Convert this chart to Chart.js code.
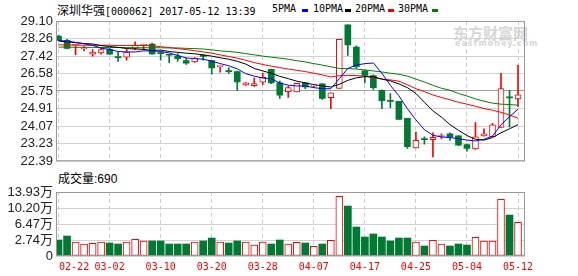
<!DOCTYPE html>
<html>
<head>
<meta charset="utf-8">
<script src="https://cdn.jsdelivr.net/npm/chart.js@4.4.0/dist/chart.umd.min.js"></script>
<style>
  body { margin: 0; width: 578px; height: 276px; background: #fff; position: relative; overflow: hidden; }
  canvas { position: absolute; left: 0; z-index: 2; }
  #kline { top: 0; }
  #vol { top: 172px; }
  .t { position: absolute; white-space: nowrap; color: #000; line-height: 1; }
  .cjk { font-family: "Noto Sans CJK SC"; font-size: 12px; }
  .mono { font-family: "DejaVu Sans Mono"; font-size: 10px; }
  .mk { position: absolute; width: 6px; height: 3px; }
  .wm { color: #d6d6d6; z-index: 1; }
</style>
</head>
<body>
<div class="t" style="left:57px;top:2px;"><span class="cjk">深圳华强</span><span class="mono">[000062] 2017-05-12 13:39</span></div>
<div class="t mono" style="left:272px;top:4px;">5PMA</div><div class="mk" style="left:302px;top:9px;background:#0000ff"></div>
<div class="t mono" style="left:313px;top:4px;">10PMA</div><div class="mk" style="left:345px;top:9px;background:#000"></div>
<div class="t mono" style="left:355px;top:4px;">20PMA</div><div class="mk" style="left:388px;top:9px;background:#ff0000"></div>
<div class="t mono" style="left:398px;top:4px;">30PMA</div><div class="mk" style="left:432px;top:9px;background:#008000"></div>
<div class="t wm" style="left:453px;top:22px;font:bold 15px 'Noto Sans CJK SC';">东方财富网</div>
<div class="t wm" style="left:455px;top:39px;font:bold 8px 'DejaVu Sans';letter-spacing:1px;">eastmoney.com</div>
<div class="t" style="left:58px;top:173px;font-size:12px;font-family:'Liberation Sans','Noto Sans CJK SC';">成交量:690</div>
<canvas id="kline" width="578" height="172"></canvas>
<canvas id="vol" width="578" height="104"></canvas>
<script>
const dates = ["02-22","02-23","02-24","02-27","02-28","03-01","03-02","03-03","03-06","03-07",
  "03-08","03-09","03-10","03-13","03-14","03-15","03-16","03-17","03-20","03-21",
  "03-22","03-23","03-24","03-27","03-28","03-29","03-30","03-31","04-05","04-06",
  "04-07","04-10","04-11","04-12","04-13","04-14","04-17","04-18","04-19","04-20",
  "04-21","04-24","04-25","04-26","04-27","04-28","05-02","05-03","05-04","05-05",
  "05-08","05-09","05-10","05-11","05-12"];

const open = [28.38,28.17,27.93,27.77,27.51,27.57,27.74,27.36,27.37,27.79,
  27.94,28.00,27.57,27.48,27.42,27.20,27.14,27.43,27.20,26.92,
  26.70,26.68,26.04,26.00,26.17,26.79,26.14,25.72,25.71,26.14,
  25.98,26.09,25.43,25.87,28.92,27.85,26.71,26.49,25.78,25.27,
  25.26,24.44,23.02,23.43,23.42,23.57,23.70,23.60,23.18,22.98,
  23.60,23.56,24.01,25.45,25.37];
const high = [28.42,28.22,27.98,27.88,27.73,27.79,27.80,27.61,27.76,28.10,
  27.99,28.04,27.63,27.51,27.54,27.33,27.35,27.50,27.21,26.95,
  26.87,26.70,26.16,26.37,26.60,26.80,26.22,25.99,26.12,26.17,
  26.03,26.10,25.66,28.22,28.92,27.91,26.75,26.52,25.80,25.63,
  25.26,24.44,23.78,23.56,23.75,23.70,23.75,23.62,23.20,24.24,
  23.94,24.20,26.60,25.78,26.98];
const low = [28.17,27.76,27.49,27.67,27.42,27.51,27.50,27.17,27.22,27.73,
  27.71,27.50,27.23,27.11,27.17,27.02,27.12,27.22,26.55,26.65,
  26.59,25.78,26.02,25.97,26.06,26.10,25.40,25.44,25.71,25.86,
  25.92,25.35,24.90,25.87,27.45,26.83,26.14,25.83,24.90,24.95,
  24.39,23.00,23.02,23.21,22.59,23.47,23.39,23.14,22.87,22.95,
  23.59,23.55,24.01,24.02,25.01];
const close = [28.17,27.79,27.98,27.80,27.61,27.73,27.51,27.35,27.61,27.94,
  27.96,27.53,27.54,27.46,27.30,27.08,27.33,27.41,26.86,26.94,
  26.68,26.18,26.14,26.10,26.40,26.14,25.55,25.91,26.12,25.94,
  25.99,25.40,25.66,28.22,27.96,26.91,26.49,25.91,25.29,25.25,
  24.39,23.08,23.39,23.42,23.53,23.60,23.55,23.16,23.00,23.56,
  23.70,24.13,25.86,25.42,25.57];

const ma5 = [28.17,28.13,28.08,28.01,27.94,27.80,27.74,27.64,27.62,27.62,
  27.67,27.67,27.64,27.57,27.45,27.33,27.30,27.27,27.18,27.06,
  26.96,26.81,26.58,26.46,26.37,26.34,26.13,26.03,25.99,25.99,
  25.91,25.86,25.86,26.34,26.83,26.99,27.06,27.09,26.60,26.02,
  25.52,24.90,24.37,23.90,23.63,23.55,23.52,23.47,23.40,23.36,
  23.44,23.59,24.13,24.52,24.88];
const ma10 = [28.14,28.10,28.06,28.02,28.00,27.92,27.88,27.84,27.78,27.76,
  27.74,27.69,27.71,27.64,27.60,27.56,27.53,27.48,27.42,27.34,
  27.27,27.17,27.04,26.83,26.71,26.60,26.45,26.34,26.22,26.14,
  26.06,25.99,25.94,26.07,26.26,26.38,26.44,26.43,26.32,26.23,
  26.09,25.91,25.63,25.21,24.80,24.50,24.14,23.87,23.62,23.44,
  23.40,23.52,23.75,23.94,24.14];
const ma20 = [27.96,27.95,27.95,27.94,27.94,27.94,27.94,27.93,27.93,27.93,
  27.93,27.92,27.87,27.83,27.78,27.73,27.68,27.62,27.56,27.48,
  27.40,27.32,27.22,27.11,27.02,26.94,26.87,26.80,26.74,26.68,
  26.60,26.52,26.42,26.48,26.49,26.49,26.45,26.39,26.32,26.28,
  26.22,26.05,25.86,25.72,25.56,25.44,25.33,25.21,25.12,25.02,
  24.91,24.83,24.73,24.60,24.45];
const ma30 = [27.85,27.85,27.84,27.84,27.84,27.83,27.83,27.83,27.83,27.82,
  27.82,27.82,27.82,27.81,27.81,27.79,27.78,27.76,27.72,27.67,
  27.64,27.60,27.54,27.48,27.42,27.37,27.32,27.27,27.20,27.14,
  27.06,26.99,26.91,26.83,26.82,26.80,26.76,26.71,26.66,26.60,
  26.55,26.46,26.32,26.18,26.02,25.88,25.79,25.63,25.51,25.37,
  25.26,25.17,25.12,25.10,25.07];

// 成交量, 单位: 万
const volume = [2.74,3.67,2.27,1.81,1.97,2.27,2.04,1.81,2.27,2.90,
  2.51,2.51,2.51,1.81,1.81,1.81,2.27,2.51,3.20,2.27,
  2.04,2.51,2.27,1.57,2.27,1.81,2.74,1.81,2.20,2.04,
  1.27,1.81,2.67,12.92,10.66,5.77,3.44,4.14,3.44,2.51,
  3.20,3.20,2.27,1.34,2.67,1.81,1.34,1.81,1.57,3.37,
  2.51,2.51,12.22,8.56,6.86];

const priceTicks = ["29.10","28.26","27.42","26.58","25.75","24.91","24.07","23.23","22.39"];
const volTicks = [-0.99, 2.74, 6.47, 10.20, 13.93];
const volTickLabels = ["0","2.74万","6.47万","10.20万","13.93万"];
const dateTicks = ["02-22","03-02","03-10","03-20","03-28","04-07","04-17","04-25","05-04","05-12"];

const RED = "#ff0000", GREEN = "#007a33";
const idx = dates.map((d, i) => i);
const isUp = close.map((c, i) => c >= open[i]);
const candleColor = isUp.map(u => u ? RED : GREEN);
const fillColor = isUp.map(u => u ? "#fff" : GREEN);
const X_MIN = -0.3, X_MAX = 54.82;

// frame round the plot area
const frame = {
  id: "frame",
  afterDraw(chart) {
    const { ctx, chartArea: a } = chart;
    ctx.save();
    ctx.strokeStyle = "#999";
    ctx.lineWidth = 1;
    ctx.strokeRect(a.left + 0.5, a.top + 0.5, a.right - a.left - 1, a.bottom - a.top - 1);
    ctx.restore();
  }
};

const xAxis = {
  type: "linear", min: X_MIN, max: X_MAX, offset: false,
  afterBuildTicks: s => { s.ticks = dateTicks.map(d => ({ value: dates.indexOf(d) })); },
  ticks: { display: false },
  grid: { color: "#cccccc", drawTicks: false, offset: false },
  border: { display: false, dash: [4, 3] },
  afterFit: s => { s.height = 0; }
};

const maLine = (data, color) => ({
  type: "line",
  data: idx.map(i => ({ x: i, y: data[i] })),
  borderColor: color, borderWidth: 1, pointRadius: 0, tension: 0, order: 1
});

new Chart(document.getElementById("kline"), {
  type: "bar",
  data: {
    datasets: [
      {
        data: idx.map(i => ({ x: i, y: [low[i], high[i]] })),
        backgroundColor: candleColor, barThickness: 1, grouped: false, order: 3
      },
      {
        data: idx.map(i => ({ x: i, y: [open[i], close[i]] })),
        backgroundColor: fillColor, borderColor: candleColor,
        borderWidth: isUp.map(u => u ? 1 : 0), borderSkipped: false,
        barThickness: 6, minBarLength: 1, grouped: false, order: 2
      },
      maLine(ma5, "#0000ff"),
      maLine(ma10, "#000000"),
      maLine(ma20, "#ff0000"),
      maLine(ma30, "#008000")
    ]
  },
  options: {
    responsive: false, animation: false,
    layout: { padding: { left: 0, right: 53, top: 21, bottom: 6 } },
    plugins: { legend: { display: false }, tooltip: { enabled: false } },
    scales: {
      x: xAxis,
      y: {
        min: 22.39, max: 29.10,
        afterBuildTicks: s => { s.ticks = priceTicks.map(t => ({ value: parseFloat(t) })); },
        ticks: { callback: v => v.toFixed(2), color: "#222", padding: 3, autoSkip: false,
                 font: { family: "'Liberation Sans'", size: 13 } },
        grid: { color: c => (c.tick && c.tick.value === 25.75) ? "#a0a0a0" : "#d2d2d2", drawTicks: false },
        border: { display: false },
        afterFit: s => { s.width = 56; }
      }
    }
  },
  plugins: [frame]
});

// date labels under the volume panel
const dateLabels = {
  id: "dateLabels",
  afterDraw(chart) {
    const { ctx } = chart;
    const xs = chart.scales.x;
    ctx.save();
    ctx.font = "10px 'DejaVu Sans Mono'";
    ctx.fillStyle = RED;
    ctx.textBaseline = "middle";
    dateTicks.forEach((d, k) => {
      const px = xs.getPixelForValue(dates.indexOf(d));
      ctx.textAlign = k === 0 ? "left" : "center";
      ctx.fillText(d, k === 0 ? px + 0.5 : px, 95);
    });
    ctx.restore();
  }
};

new Chart(document.getElementById("vol"), {
  type: "bar",
  data: {
    datasets: [{
      data: idx.map(i => ({ x: i, y: volume[i] })),
      base: volTicks[0],
      backgroundColor: fillColor, borderColor: candleColor,
      borderWidth: isUp.map(u => u ? 1 : 0), borderSkipped: false,
      barThickness: 7, grouped: false
    }]
  },
  options: {
    responsive: false, animation: false,
    layout: { padding: { left: 0, right: 53, top: 20, bottom: 20 } },
    plugins: { legend: { display: false }, tooltip: { enabled: false } },
    scales: {
      x: xAxis,
      y: {
        min: volTicks[0], max: volTicks[volTicks.length - 1],
        afterBuildTicks: s => { s.ticks = volTicks.map(v => ({ value: v })); },
        ticks: { callback: v => volTickLabels[volTicks.indexOf(v)], color: "#222", padding: 3, autoSkip: false,
                 font: { family: "'Liberation Sans', 'Noto Sans CJK SC'", size: 13 } },
        grid: { color: "#d2d2d2", drawTicks: false },
        border: { display: false },
        afterFit: s => { s.width = 56; }
      }
    }
  },
  plugins: [frame, dateLabels]
});
</script>
</body>
</html>
